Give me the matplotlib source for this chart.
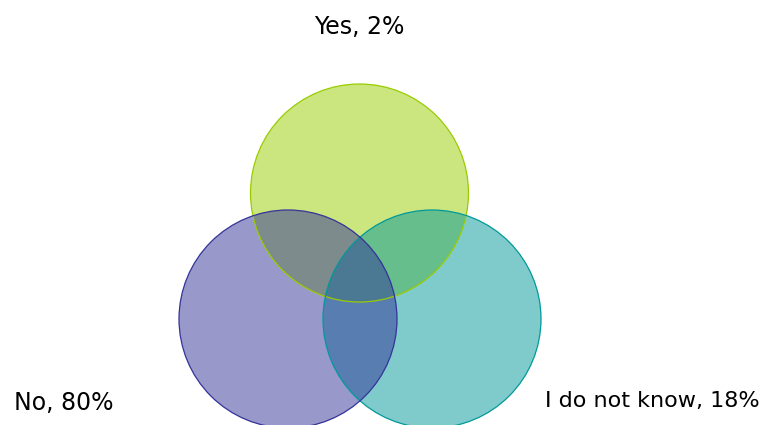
import matplotlib.pyplot as plt
from matplotlib.patches import Circle

# Answers and shares
labels = ["Yes", "No", "I do not know"]
shares = [2, 80, 18]
colors = ["#99cc00", "#333399", "#009999"]

# Circle centres (x, y) in chart units, y going down
centers_x = [359.5, 288, 432]
centers_y = [193, 319, 319]
radius = 109

fig = plt.figure(figsize=(7.63, 4.25), dpi=100)
ax = fig.add_axes([0, 0, 1, 1])
ax.set_xlim(0, 763)
ax.set_ylim(425, 0)
ax.set_aspect("equal")
ax.axis("off")

# draw order: yes, then don't know, then no on top
for z, i in enumerate([0, 2, 1]):
    ax.add_patch(Circle((centers_x[i], centers_y[i]), radius,
                        facecolor=colors[i], alpha=0.5, lw=0, zorder=z + 1))
    ax.add_patch(Circle((centers_x[i], centers_y[i]), radius,
                        facecolor="none", edgecolor=colors[i], lw=0.9, zorder=5))

txt = [f"{l}, {s}%" for l, s in zip(labels, shares)]
ax.text(359, 27, txt[0], ha="center", va="center", fontsize=17, color="black")
ax.text(14, 403, txt[1], ha="left", va="center", fontsize=17, color="black")
ax.text(760, 401, txt[2], ha="right", va="center", fontsize=16, color="black")

fig.savefig("out.png", dpi=100)
